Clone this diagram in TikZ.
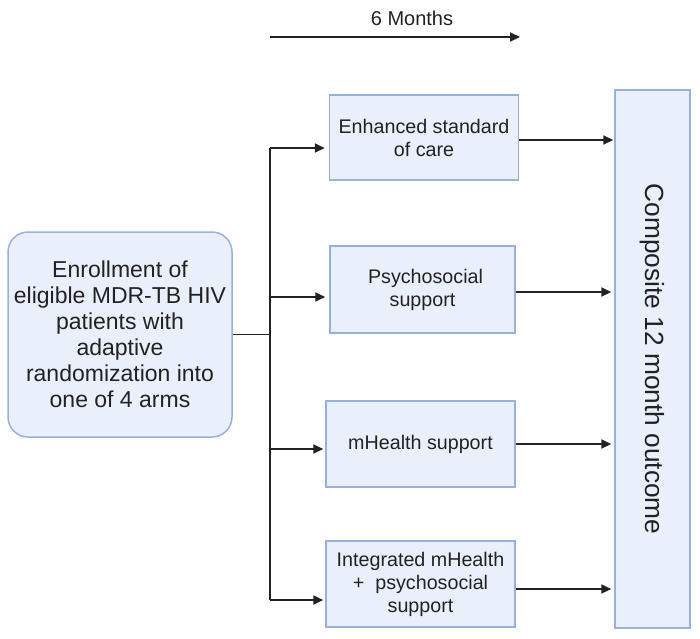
\documentclass[tikz,border=0pt]{standalone}
\usepackage{fontspec}
\setmainfont{Liberation Sans}
\usetikzlibrary{arrows.meta,calc}
\definecolor{boxfill}{HTML}{E9F0FB}
\definecolor{boxdraw}{HTML}{98B0DD}
\definecolor{ink}{HTML}{222222}
\begin{document}
\begin{tikzpicture}[x=1pt,y=-1pt,
  box/.style={draw=boxdraw,fill=boxfill,line width=1.5pt,inner sep=0pt,align=center,text=ink,
    font=\fontsize{19.7}{23}\selectfont},
  arr/.style={draw=ink,line width=2pt,-{Triangle[length=10pt,width=9pt]}},
  ln/.style={draw=ink,line width=2pt}]
\useasboundingbox (0,0) rectangle (700,638);
\node[box,rounded corners=20pt,minimum width=224pt,minimum height=205pt,
  font=\fontsize{23}{26}\selectfont] (left) at (120,334.5)
  {Enrollment of\\eligible MDR-TB HIV\\patients with\\adaptive\\randomization into\\one of 4 arms};
\node[box,minimum width=189pt,minimum height=85pt] (b1) at (424,137.5) {Enhanced standard\\of care};
\node[box,minimum width=185pt,minimum height=87pt] (b2) at (422.5,289.5) {\hspace*{6pt}Psychosocial\\support};
\node[box,minimum width=189pt,minimum height=86pt] (b3) at (420.5,444) {mHealth support};
\node[box,minimum width=189pt,minimum height=86pt] (b4) at (420.5,584) {Integrated mHealth\\+\ \ psychosocial\\support};
\node[box,minimum width=75pt,minimum height=538pt] (comp) at (652.5,359) {};
\node[text=ink,rotate=-90,font=\fontsize{26.3}{30}\selectfont] (ctext) at (comp.center) {Composite 12 month outcome};
% timeline
\coordinate (t0) at (270,37);
\coordinate (t1) at (520,37);
\draw[arr] (t0) -- (t1);
\node[text=ink,font=\fontsize{20}{24}\selectfont] (tl) at (412,18) {6 Months};
% trunk
\coordinate (ttop) at (270,148);
\coordinate (tbot) at (270,600);
\coordinate (j2) at (270,297);
\coordinate (j3) at (270,449);
\draw[ln] (ttop) -- (tbot);
\draw[draw=ink,line width=1pt] (left.east) -- (left.east -| ttop);
\draw[arr,shorten >=4pt] (ttop) -- (ttop -| b1.west);
\draw[arr,shorten >=4pt] (j2) -- (j2 -| b2.west);
\draw[arr,shorten >=2pt] (j3) -- (j3 -| b3.west);
\draw[arr,shorten >=2pt] (tbot) -- (tbot -| b4.west);
% outputs
\coordinate (o1) at ($(b1.east)+(0,2.5)$);
\coordinate (o2) at ($(b2.east)+(0,2.5)$);
\coordinate (o4) at ($(b4.east)+(0,5)$);
\draw[arr,shorten >=1pt] (o1) -- (o1 -| comp.west);
\draw[arr,shorten >=3pt] (o2) -- (o2 -| comp.west);
\draw[arr,shorten >=3pt] (b3.east) -- (b3.east -| comp.west);
\draw[arr,shorten >=3pt] (o4) -- (o4 -| comp.west);
\end{tikzpicture}
\end{document}
